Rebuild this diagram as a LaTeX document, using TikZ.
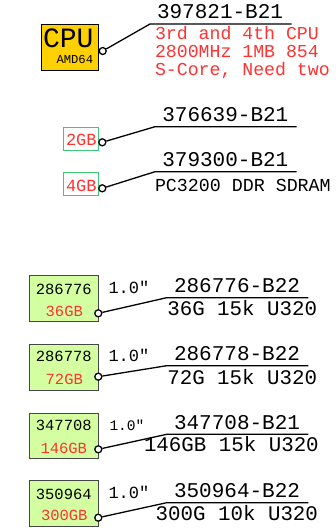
\documentclass[tikz,border=0pt]{standalone}
\usepackage{fontspec}
\setmainfont{Liberation Mono}[Ligatures=TeXOff]
\definecolor{cpuyellow}{RGB}{255,208,0}
\definecolor{diskgreen}{RGB}{212,255,160}
\definecolor{memgreen}{RGB}{60,200,120}
\definecolor{txtred}{RGB}{255,50,50}
\definecolor{boxgray}{RGB}{70,70,70}
\tikzset{
  lbl/.style={anchor=base west, inner sep=0pt, outer sep=0pt},
  pn/.style={lbl, font=\fontsize{21}{21}\selectfont},
  desc/.style={lbl, font=\fontsize{20.8}{21}\selectfont},
  redtxt/.style={lbl, text=txtred, font=\fontsize{18.2}{17.8}\selectfont, align=left},
  len/.style={lbl, font=\fontsize{17}{17}\selectfont},
  lead/.style={line width=1.3pt, black},
  dotn/.style={circle, draw=black, fill=white, line width=1.3pt, minimum size=7pt, inner sep=0pt},
  diskbox/.style={draw=boxgray, line width=0.9pt, fill=diskgreen, minimum width=69pt, minimum height=45.7pt, inner sep=0pt, anchor=north west},
  membox/.style={draw=memgreen, line width=0.9pt, fill=white, minimum width=35pt, minimum height=22.5pt, inner sep=0pt, anchor=north west},
  disklbl/.style={inner sep=0pt, anchor=base, font=\fontsize{15.5}{15.5}\selectfont},
}
\begin{document}
\begin{tikzpicture}[x=1pt,y=-1pt]
\useasboundingbox (0,0) rectangle (336,528);

% CPU
\node[draw=black, line width=1.8pt, fill=cpuyellow, minimum width=57pt, minimum height=46pt, inner sep=0pt] (cpu) at (70,47.5) {};
\node[lbl, font=\fontsize{28}{28}\selectfont] (cputxt) at (43,47) {CPU};
\node[lbl, font=\fontsize{12.2}{12}\selectfont] (amd) at (56.5,63.3) {AMD64};
\node[dotn] (d0) at (102.7,51) {};
\coordinate (k0) at (150,24);
\coordinate (e0) at (291.7,24);
\draw[lead] (d0) -- (k0) -- (e0);
\node[pn] (p0) at (157,18) {397821-B21};
\node[redtxt, anchor=north west] (r0) at (155,26.5) {3rd and 4th CPU\\2800MHz 1MB 854\\S-Core, Need two};

% Memory
\node[membox] (m1) at (63.3,127.3) {};
\node[lbl, text=txtred, font=\fontsize{17}{17}\selectfont] (m1t) at (66,145.7) {2GB};
\node[dotn] (d1) at (102.3,142.3) {};
\coordinate (k1) at (155,126.7);
\coordinate (e1) at (296.7,126.7);
\draw[lead] (d1) -- (k1) -- (e1);
\node[pn] (p1) at (162.3,121.7) {376639-B21};

\node[membox] (m2) at (63.3,172.3) {};
\node[lbl, text=txtred, font=\fontsize{17}{17}\selectfont] (m2t) at (66,191.2) {4GB};
\node[dotn] (d2) at (102.3,188.3) {};
\coordinate (k2) at (155,171.7);
\coordinate (e2) at (296.7,171.7);
\draw[lead] (d2) -- (k2) -- (e2);
\node[pn] (p2) at (162.3,166.7) {379300-B21};
\node[lbl, font=\fontsize{18.3}{18}\selectfont] (pc) at (155,191.7) {PC3200 DDR SDRAM};

% Disk 1
\node[diskbox] (b1) at (29.3,275) {};
\node[disklbl] (b1a) at (63.8,294) {286776};
\node[disklbl, text=txtred] (b1b) at (64.3,316.7) {36GB};
\node[dotn] (q1) at (98.3,313.3) {};
\coordinate (j1) at (166.7,297.7);
\coordinate (f1) at (308.3,297.7);
\draw[lead] (q1) -- (j1) -- (f1);
\node[len] (l1) at (108.5,293.3) {1.0"};
\node[pn] (n1) at (174,292.3) {286776-B22};
\node[desc] (s1) at (167.3,315.7) {36G 15k U320};

% Disk 2
\node[diskbox] (b2) at (29.3,344) {};
\node[disklbl] (b2a) at (63.8,361.7) {286778};
\node[disklbl, text=txtred] (b2b) at (64.3,384.5) {72GB};
\node[dotn] (q2) at (98.3,376.7) {};
\coordinate (j2) at (166.7,365.7);
\coordinate (f2) at (308.3,365.7);
\draw[lead] (q2) -- (j2) -- (f2);
\node[len] (l2) at (108.5,361.7) {1.0"};
\node[pn] (n2) at (174,360.7) {286778-B22};
\node[desc] (s2) at (167.3,384) {72G 15k U320};

% Disk 3
\node[diskbox] (b3) at (29.3,412.7) {};
\node[disklbl] (b3a) at (63.8,430.7) {347708};
\node[disklbl, text=txtred] (b3b) at (63.8,453.3) {146GB};
\node[dotn] (q3) at (98.3,449.3) {};
\coordinate (j3) at (166.7,434.3);
\coordinate (f3) at (308.3,434.3);
\draw[lead] (q3) -- (j3) -- (f3);
\node[lbl, font=\fontsize{14.5}{14.5}\selectfont] (l3) at (109.5,430.7) {1.0"};
\node[pn] (n3) at (174,429) {347708-B21};
\node[desc] (s3) at (144,451.7) {146GB 15k U320};

% Disk 4
\node[diskbox] (b4) at (29.3,480) {};
\node[disklbl] (b4a) at (63.8,499) {350964};
\node[disklbl, text=txtred] (b4b) at (64.3,520.7) {300GB};
\node[dotn] (q4) at (98.3,517.7) {};
\coordinate (j4) at (166.7,502.7);
\coordinate (f4) at (308.3,502.7);
\draw[lead] (q4) -- (j4) -- (f4);
\node[len] (l4) at (108.5,498.3) {1.0"};
\node[pn] (n4) at (174,497.3) {350964-B22};
\node[desc] (s4) at (155.7,520) {300G 10k U320};
\end{tikzpicture}
\end{document}
